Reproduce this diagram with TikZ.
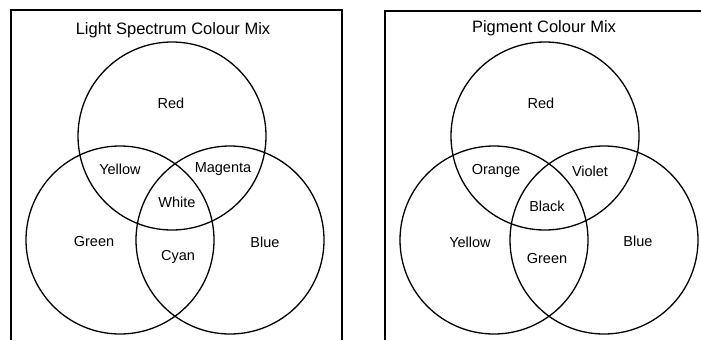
\documentclass[tikz,border=0pt]{standalone}
\usepackage{fontspec}
\setmainfont{Liberation Sans}
\begin{document}
\begin{tikzpicture}[x=1pt,y=-1pt,
  venn/.style={circle, draw, inner sep=0pt, minimum size=188pt, line width=1.3pt},
  lbl/.style={inner sep=0pt, font=\fontsize{14.5}{16}\selectfont},
  ttl/.style={inner sep=0pt, font=\fontsize{16.5}{19}\selectfont},
  frame/.style={line width=1.5pt}]
\useasboundingbox (0,0) rectangle (701,340);
% left panel frame
\coordinate (lbl1) at (11,340);
\coordinate (ltl) at (11,10);
\coordinate (ltr) at (342,10);
\coordinate (lbr) at (342,340);
\draw[frame] (lbl1) -- (ltl) -- (ltr) -- (lbr);
% right panel frame
\coordinate (rbl) at (385,340);
\coordinate (rtl) at (385,11);
\coordinate (rtr) at (701,11);
\draw[frame] (rbl) -- (rtl) -- (rtr);
% left circles
\node[venn] (lred) at (172,136) {};
\node[venn] (lgreen) at (120,240) {};
\node[venn] (lblue) at (230,240) {};
% right circles
\node[venn] (rred) at (545,136) {};
\node[venn] (ryellow) at (494,240) {};
\node[venn] (rblue) at (604,240) {};
% left labels
\node[ttl] (ltitle) at (173,30) {Light Spectrum Colour Mix};
\node[lbl] (tred) at (171,103) {Red};
\node[lbl] (tyellow) at (120,169) {Yellow};
\node[lbl] (tmagenta) at (223,169) {Magenta};
\node[lbl] (twhite) at (177,202) {White};
\node[lbl] (tgreen) at (94,242) {Green};
\node[lbl] (tcyan) at (178,257) {Cyan};
\node[lbl] (tblue) at (265,242) {Blue};
% right labels
\node[ttl] (rtitle) at (544,28) {Pigment Colour Mix};
\node[lbl] (pred) at (541,103) {Red};
\node[lbl] (porange) at (496,171) {Orange};
\node[lbl] (pviolet) at (590,171) {Violet};
\node[lbl] (pblack) at (547,206) {Black};
\node[lbl] (pyellow) at (470,242) {Yellow};
\node[lbl] (pgreen) at (547,259) {Green};
\node[lbl] (pblue) at (638,241) {Blue};
\end{tikzpicture}
\end{document}
